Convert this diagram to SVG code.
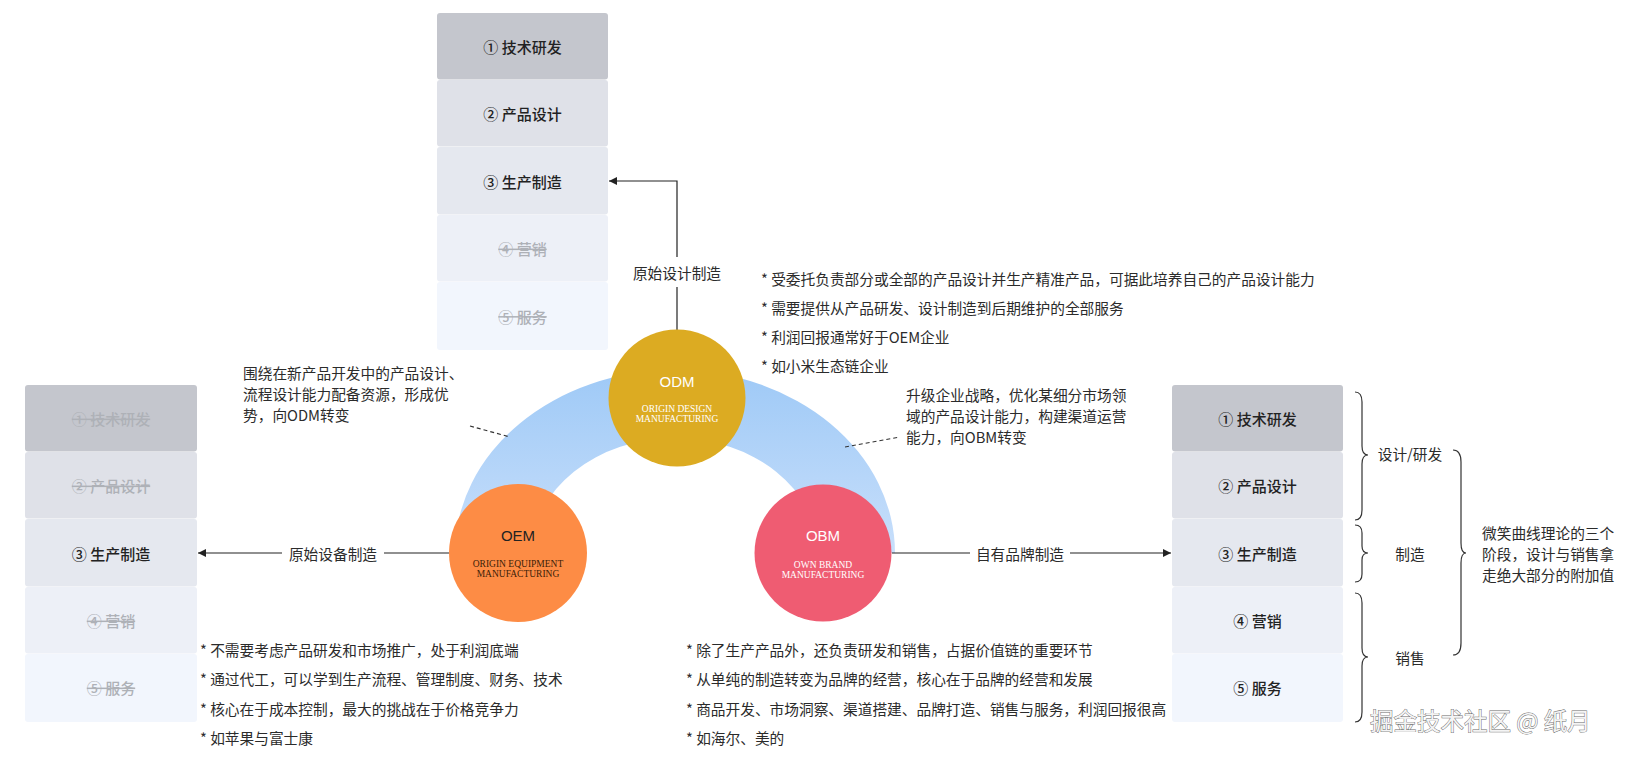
<svg xmlns="http://www.w3.org/2000/svg" width="1627" height="757" viewBox="0 0 1627 757">
<defs>
<style>
.t{font-family:"Noto Sans CJK SC","Liberation Sans",sans-serif;font-size:14.7px;fill:#2b2b2b;dominant-baseline:central}
.c{text-anchor:middle}
.row{font-family:"Noto Sans CJK SC","DejaVu Sans",sans-serif;font-size:15px;font-weight:500;fill:#222;text-anchor:middle;dominant-baseline:central}
.off{fill:#aeb1b7;text-decoration:line-through}
.r1{fill:#c4c6cd}.r2{fill:#dfe1e8}.r3{fill:#e5e8ef}.r4{fill:#edf0f7}.r5{fill:#f2f6fd}
.ln{stroke:#222;stroke-width:1.2;fill:none}
.br{stroke:#333;stroke-width:1.2;fill:none}
.dash{stroke:#333;stroke-width:1.2;stroke-dasharray:4 3;fill:none}
.big{font-family:"Liberation Sans",Arial,sans-serif;font-size:15px;text-anchor:middle;dominant-baseline:central}
.sub{font-family:"Liberation Serif","Times New Roman",serif;font-size:9.5px;text-anchor:middle;dominant-baseline:central}
</style>
<marker id="ah" viewBox="0 0 10 10" refX="10" refY="5" markerWidth="9" markerHeight="8" markerUnits="userSpaceOnUse" orient="auto">
<path d="M0,0 L10,5 L0,10 Z" fill="#222"/>
</marker>
<linearGradient id="band" x1="0" y1="360" x2="0" y2="553" gradientUnits="userSpaceOnUse">
<stop offset="0" stop-color="#9cc8f6"/>
<stop offset="1" stop-color="#c8dffb"/>
</linearGradient>
</defs>

<g id="band-arc">
<path d="M455,553 A220,183 0 0 1 895,553 L818,553 A143,115 0 0 0 532,553 Z" fill="url(#band)"/>
</g>

<g id="connectors">
<path class="ln" d="M677,330 V287"/>
<path class="ln" d="M677,257 V181 H609" marker-end="url(#ah)"/>
<path class="ln" d="M449,553 H384"/>
<path class="ln" d="M282,553 H198" marker-end="url(#ah)"/>
<path class="ln" d="M892,553 H970"/>
<path class="ln" d="M1070,553 H1171" marker-end="url(#ah)"/>
<path class="dash" d="M470,426 L510,437"/>
<path class="dash" d="M845,447 L900,437"/>
</g>

<g id="col-top">
<rect class="r1" x="437" y="13" width="171" height="66.5" rx="3"/>
<rect class="r2" x="437" y="80" width="171" height="66.5" rx="3"/>
<rect class="r3" x="437" y="147" width="171" height="67.5" rx="3"/>
<rect class="r4" x="437" y="215" width="171" height="66.5" rx="3"/>
<rect class="r5" x="437" y="282" width="171" height="68" rx="3"/>
<text class="row" x="522.5" y="46.5">① 技术研发</text>
<text class="row" x="522.5" y="113.5">② 产品设计</text>
<text class="row" x="522.5" y="181">③ 生产制造</text>
<text class="row off" x="522.5" y="248.5">④ 营销</text>
<text class="row off" x="522.5" y="316">⑤ 服务</text>
</g>

<g id="col-left">
<rect class="r1" x="25" y="385" width="172" height="66.5" rx="3"/>
<rect class="r2" x="25" y="452" width="172" height="66.5" rx="3"/>
<rect class="r3" x="25" y="519" width="172" height="67.5" rx="3"/>
<rect class="r4" x="25" y="587" width="172" height="66.5" rx="3"/>
<rect class="r5" x="25" y="654" width="172" height="68" rx="3"/>
<text class="row off" x="111" y="418.5">① 技术研发</text>
<text class="row off" x="111" y="485.5">② 产品设计</text>
<text class="row" x="111" y="553">③ 生产制造</text>
<text class="row off" x="111" y="620.5">④ 营销</text>
<text class="row off" x="111" y="687.5">⑤ 服务</text>
</g>

<g id="col-right">
<rect class="r1" x="1172" y="385" width="171" height="66.5" rx="3"/>
<rect class="r2" x="1172" y="452" width="171" height="66.5" rx="3"/>
<rect class="r3" x="1172" y="519" width="171" height="67.5" rx="3"/>
<rect class="r4" x="1172" y="587" width="171" height="66.5" rx="3"/>
<rect class="r5" x="1172" y="654" width="171" height="68" rx="3"/>
<text class="row" x="1257.5" y="418.5">① 技术研发</text>
<text class="row" x="1257.5" y="485.5">② 产品设计</text>
<text class="row" x="1257.5" y="553">③ 生产制造</text>
<text class="row" x="1257.5" y="620.5">④ 营销</text>
<text class="row" x="1257.5" y="687.5">⑤ 服务</text>
</g>

<g id="node-odm">
<circle cx="677" cy="398" r="68.5" fill="#dcab22"/>
<text class="big" x="677" y="381" fill="#fff">ODM</text>
<text class="sub" x="677" y="409" fill="#fff">ORIGIN DESIGN</text>
<text class="sub" x="677" y="419" fill="#fff">MANUFACTURING</text>
</g>

<g id="node-oem">
<circle cx="518" cy="553" r="69" fill="#fd8c45"/>
<text class="big" x="518" y="535" fill="#222">OEM</text>
<text class="sub" x="518" y="564" fill="#3a2108">ORIGIN EQUIPMENT</text>
<text class="sub" x="518" y="574" fill="#3a2108">MANUFACTURING</text>
</g>

<g id="node-obm">
<circle cx="823" cy="553" r="68.5" fill="#ef5c72"/>
<text class="big" x="823" y="535" fill="#fff">OBM</text>
<text class="sub" x="823" y="565" fill="#fff">OWN BRAND</text>
<text class="sub" x="823" y="575" fill="#fff">MANUFACTURING</text>
</g>

<g id="labels">
<text class="t c" x="677" y="272">原始设计制造</text>
<text class="t c" x="333" y="553">原始设备制造</text>
<text class="t c" x="1020" y="553">自有品牌制造</text>
</g>

<g id="note-odm">
<text class="t" x="761" y="278">* 受委托负责部分或全部的产品设计并生产精准产品，可据此培养自己的产品设计能力</text>
<text class="t" x="761" y="307">* 需要提供从产品研发、设计制造到后期维护的全部服务</text>
<text class="t" x="761" y="336">* 利润回报通常好于OEM企业</text>
<text class="t" x="761" y="365">* 如小米生态链企业</text>
</g>

<g id="note-left">
<text class="t" x="243" y="372">围绕在新产品开发中的产品设计、</text>
<text class="t" x="243" y="393">流程设计能力配备资源，形成优</text>
<text class="t" x="243" y="414">势，向ODM转变</text>
</g>

<g id="note-right">
<text class="t" x="906" y="394">升级企业战略，优化某细分市场领</text>
<text class="t" x="906" y="415">域的产品设计能力，构建渠道运营</text>
<text class="t" x="906" y="436">能力，向OBM转变</text>
</g>

<g id="note-oem">
<text class="t" x="200" y="649">* 不需要考虑产品研发和市场推广，处于利润底端</text>
<text class="t" x="200" y="678">* 通过代工，可以学到生产流程、管理制度、财务、技术</text>
<text class="t" x="200" y="708">* 核心在于成本控制，最大的挑战在于价格竞争力</text>
<text class="t" x="200" y="737">* 如苹果与富士康</text>
</g>

<g id="note-obm">
<text class="t" x="686" y="649">* 除了生产产品外，还负责研发和销售，占据价值链的重要环节</text>
<text class="t" x="686" y="678">* 从单纯的制造转变为品牌的经营，核心在于品牌的经营和发展</text>
<text class="t" x="686" y="708">* 商品开发、市场洞察、渠道搭建、品牌打造、销售与服务，利润回报很高</text>
<text class="t" x="686" y="737">* 如海尔、美的</text>
</g>

<g id="braces">
<path class="br" d="M1355,392 Q1362,392 1362,402 V446 Q1362,455 1368,455 Q1362,455 1362,464 V510 Q1362,520 1355,520"/>
<path class="br" d="M1355,525 Q1362,525 1362,533 V546 Q1362,553 1368,553 Q1362,553 1362,560 V574 Q1362,582 1355,582"/>
<path class="br" d="M1355,593 Q1362,593 1362,603 V648 Q1362,657 1368,657 Q1362,657 1362,666 V712 Q1362,722 1355,722"/>
<path class="br" d="M1453,450 Q1461,450 1461,462 V543 Q1461,553 1466,553 Q1461,553 1461,563 V643 Q1461,655 1453,655"/>
<text class="t c" x="1410" y="453">设计/研发</text>
<text class="t c" x="1410" y="553">制造</text>
<text class="t c" x="1410" y="657">销售</text>
<text class="t" x="1482" y="532">微笑曲线理论的三个</text>
<text class="t" x="1482" y="553">阶段，设计与销售拿</text>
<text class="t" x="1482" y="574">走绝大部分的附加值</text>
</g>

<g id="watermark">
<text x="1370" y="720" font-family="'Noto Sans CJK SC','Liberation Sans',sans-serif" font-size="23.5px" fill="#f4f4f4" stroke="#6a6a6a" stroke-width="0.9" paint-order="stroke" dominant-baseline="central">掘金技术社区 @ 纸月</text>
</g>
</svg>
